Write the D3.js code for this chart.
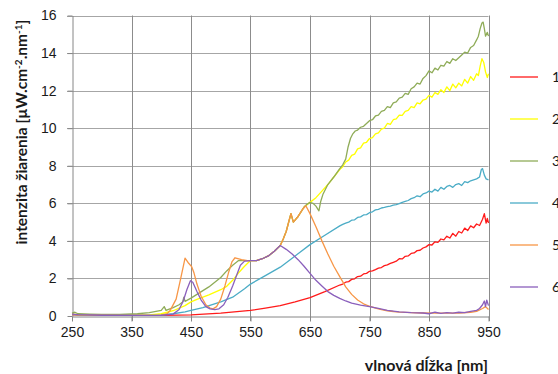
<!DOCTYPE html>
<html>
<head>
<meta charset="utf-8">
<script src="https://cdn.jsdelivr.net/npm/d3@7"></script>
<style>
  body { margin: 0; background: #fff; }
  svg { font-family: Lato, "Open Sans", sans-serif; }
  .axis text { font-size: 14px; fill: #1a1a1a; }
  .title { font-weight: bold; fill: #1a1a1a; }
</style>
</head>
<body>
<svg width="558" height="374"></svg>
<script>
var xTicks = [250, 350, 450, 550, 650, 750, 850, 950];
var yTicks = [0, 2, 4, 6, 8, 10, 12, 14, 16];
var seriesNames = ["1", "2", "3", "4", "5", "6"];
var colors = ["#ff1a1a", "#ffff00", "#8fac58", "#4bacc6", "#f79646", "#8a5fbc"];

// [vlnova dlzka, intenzita]
var s1 = [[250,0.08],[260,0.05],[300,0.04],[350,0.03],[400,0.03],[450,0.06],[500,0.15],[550,0.3],[575,0.42],[600,0.55],
  [625,0.75],[650,0.98],[675,1.3],[700,1.65],[705,1.7],[710,1.8],[715,1.83],[720,1.95],[725,1.98],[730,2.1],[735,2.12],
  [740,2.24],[745,2.27],[750,2.38],[755,2.4],[760,2.47],[765,2.55],[770,2.58],[775,2.68],[780,2.72],[785,2.8],[790,2.86],
  [795,2.92],[800,3.05],[805,3.04],[810,3.18],[815,3.2],[820,3.33],[825,3.36],[830,3.48],[835,3.5],[840,3.62],[845,3.68],
  [850,3.8],[855,3.78],[860,3.95],[865,3.92],[870,4.1],[875,4.05],[880,4.25],[885,4.15],[890,4.4],[895,4.25],[900,4.5],
  [905,4.42],[910,4.68],[915,4.55],[920,4.8],[925,4.7],[930,4.9],[935,4.82],[940,5.15],[943,5.45],[946,4.95],[948,5.2],[950,4.95]];

var s2 = [[250,0.1],[260,0.08],[280,0.05],[300,0.04],[350,0.04],[380,0.06],[400,0.12],[420,0.28],[440,0.55],[450,0.75],
  [460,0.88],[480,1.12],[500,1.4],[510,1.58],[520,1.9],[530,2.3],[540,2.65],[550,2.95],[560,2.95],[570,3.05],[580,3.2],
  [590,3.45],[600,3.75],[605,4.1],[610,4.5],[615,5.1],[618,5.45],[622,5.0],[630,5.3],[640,5.8],[650,6.05],[660,6.3],
  [670,6.65],[680,7.0],[690,7.4],[700,7.8],[705,7.95],[710,8.2],[715,8.3],[720,8.55],[725,8.62],[730,8.9],[735,8.95],
  [740,9.2],[745,9.25],[750,9.45],[755,9.5],[760,9.7],[765,9.75],[770,9.95],[775,10.0],[780,10.25],[785,10.2],[790,10.45],
  [795,10.5],[800,10.7],[805,10.68],[810,10.9],[815,10.95],[820,11.15],[825,11.1],[830,11.35],[835,11.3],[840,11.5],
  [845,11.55],[850,11.75],[855,11.65],[860,11.9],[865,11.8],[870,12.05],[875,11.9],[880,12.2],[885,12.0],[890,12.35],
  [895,12.15],[900,12.4],[905,12.25],[910,12.6],[915,12.4],[920,12.75],[925,12.55],[930,12.9],[933,12.8],[936,13.3],
  [939,13.7],[942,13.5],[945,13.0],[948,12.7],[950,12.9]];

var s3 = [[250,0.15],[255,0.2],[260,0.12],[280,0.1],[300,0.08],[330,0.08],[360,0.12],[380,0.18],[400,0.3],[405,0.5],
  [408,0.3],[420,0.45],[430,0.6],[436,0.75],[438,1.0],[440,0.78],[450,0.95],[460,1.15],[480,1.55],[500,2.05],[510,2.4],
  [520,2.7],[530,2.95],[540,2.95],[550,2.95],[560,2.95],[570,3.05],[580,3.2],[590,3.45],[600,3.75],[605,4.1],[610,4.5],
  [615,5.1],[618,5.45],[622,5.0],[630,5.3],[640,5.8],[645,5.95],[650,6.05],[655,6.0],[660,5.85],[665,5.6],[668,6.1],
  [672,6.5],[680,7.0],[690,7.4],[700,7.85],[705,8.05],[710,8.35],[714,9.0],[718,9.45],[722,9.7],[726,9.85],[730,9.9],
  [735,10.05],[740,10.1],[745,10.25],[750,10.4],[755,10.45],[760,10.65],[765,10.7],[770,10.9],[775,10.95],[780,11.15],
  [785,11.1],[790,11.35],[795,11.4],[800,11.6],[805,11.65],[810,11.85],[815,11.8],[820,12.1],[825,12.2],[830,12.4],
  [835,12.35],[840,12.65],[845,12.8],[850,13.05],[855,12.95],[860,13.2],[865,13.1],[870,13.35],[875,13.3],[880,13.55],
  [885,13.45],[890,13.7],[895,13.6],[900,13.75],[905,13.9],[910,14.05],[915,14.0],[920,14.3],[925,14.4],[930,14.7],
  [933,14.9],[936,15.3],[939,15.6],[941,15.65],[943,15.3],[945,14.9],[948,15.1],[950,14.9]];

var s4 = [[250,0.08],[270,0.05],[300,0.03],[350,0.03],[380,0.03],[400,0.05],[420,0.12],[440,0.22],[450,0.3],[470,0.45],
  [500,0.75],[520,1.0],[540,1.45],[550,1.7],[575,2.15],[600,2.6],[625,3.2],[650,3.8],[675,4.3],[700,4.8],[705,4.88],
  [710,4.95],[715,5.0],[720,5.1],[725,5.12],[730,5.25],[735,5.28],[740,5.38],[745,5.4],[750,5.5],[755,5.55],[760,5.65],
  [765,5.68],[770,5.75],[775,5.78],[780,5.82],[785,5.85],[790,5.9],[795,5.93],[800,5.98],[805,6.05],[810,6.1],[815,6.15],
  [820,6.25],[825,6.3],[830,6.4],[835,6.35],[840,6.5],[845,6.55],[850,6.65],[855,6.6],[860,6.75],[865,6.65],[870,6.85],
  [875,6.75],[880,6.9],[885,6.95],[890,6.85],[895,7.0],[900,7.05],[905,6.95],[910,7.15],[915,7.1],[920,7.2],[925,7.25],
  [930,7.3],[935,7.4],[938,7.8],[940,7.85],[943,7.5],[946,7.3],[950,7.25]];

var s5 = [[250,0.08],[260,0.06],[300,0.04],[350,0.03],[400,0.05],[410,0.12],[415,0.3],[425,0.9],[432,1.9],[440,3.08],
  [445,2.85],[451,2.63],[455,2.3],[460,1.7],[467,1.05],[475,0.6],[482,0.42],[487,0.38],[493,0.5],[500,0.9],[507,1.6],
  [513,2.3],[519,2.9],[524,3.1],[535,3.0],[545,2.95],[550,2.95],[560,2.95],[570,3.05],[580,3.2],[590,3.45],[600,3.75],
  [605,4.1],[610,4.5],[615,5.1],[618,5.45],[622,5.0],[630,5.3],[638,5.7],[643,5.87],[650,5.45],[660,4.75],[670,4.0],
  [680,3.3],[690,2.65],[700,2.1],[710,1.55],[720,1.15],[730,0.85],[740,0.65],[750,0.52],[760,0.42],[770,0.34],[780,0.28],
  [790,0.24],[800,0.21],[820,0.18],[840,0.16],[860,0.15],[880,0.15],[900,0.16],[920,0.2],[930,0.25],[940,0.4],[945,0.5],[950,0.35]];

var s6 = [[250,0.1],[260,0.07],[300,0.04],[350,0.03],[400,0.04],[420,0.1],[430,0.35],[437,0.8],[443,1.4],[449,1.88],
  [453,1.8],[460,1.3],[467,0.85],[475,0.5],[482,0.38],[490,0.34],[497,0.38],[505,0.6],[512,1.0],[520,1.6],[527,2.2],
  [533,2.7],[540,2.92],[550,2.95],[560,2.95],[570,3.05],[580,3.2],[590,3.45],[600,3.75],[610,3.55],[620,3.3],[630,3.0],
  [640,2.65],[650,2.27],[660,1.9],[670,1.6],[680,1.3],[690,1.1],[700,0.94],[710,0.8],[720,0.68],[735,0.58],[750,0.5],
  [765,0.4],[780,0.3],[800,0.22],[820,0.18],[840,0.16],[850,0.12],[860,0.2],[870,0.14],[880,0.18],[890,0.15],[900,0.2],
  [910,0.18],[920,0.25],[930,0.3],[935,0.4],[940,0.6],[943,0.8],[945,0.5],[947,0.85],[950,0.55]];

var allSeries = [s1, s2, s3, s4, s5, s6];

var svg = d3.select("svg");

var x = d3.scaleLinear().domain([250, 950]).range([72, 488.5]);
var y = d3.scaleLinear().domain([0, 16]).range([316, 15.5]);

// mriezka
svg.append("g")
    .selectAll("line")
    .data(yTicks.filter(function(d) { return d > 0; }))
    .enter().append("line")
    .attr("x1", x(250) - 5).attr("x2", x(950))
    .attr("y1", function(d) { return Math.round(y(d)) + 0.5; })
    .attr("y2", function(d) { return Math.round(y(d)) + 0.5; })
    .attr("stroke", "#a6a6a6");

svg.append("g")
    .selectAll("line")
    .data(xTicks.filter(function(d) { return d > 250; }))
    .enter().append("line")
    .attr("x1", function(d) { return Math.round(x(d)) + 0.5; })
    .attr("x2", function(d) { return Math.round(x(d)) + 0.5; })
    .attr("y1", y(16)).attr("y2", y(0) + 5)
    .attr("stroke", "#8c8c8c");

var xAxis = d3.axisBottom(x).tickValues(xTicks).tickSizeInner(5).tickSizeOuter(0).tickPadding(6);
var yAxis = d3.axisLeft(y).tickValues(yTicks).tickSizeInner(5).tickSizeOuter(0).tickPadding(11);

svg.append("g")
    .attr("class", "axis")
    .attr("transform", "translate(0," + (Math.round(y(0)) + 0.5) + ")")
    .call(xAxis);

svg.append("g")
    .attr("class", "axis")
    .attr("transform", "translate(" + (Math.round(x(250)) + 0.5) + ",0)")
    .call(yAxis);

svg.selectAll(".axis path, .axis line").attr("stroke", "#868686");

var line = d3.line()
    .x(function(d) { return x(d[0]); })
    .y(function(d) { return y(d[1]); });

svg.append("g")
    .selectAll("path")
    .data(allSeries)
    .enter().append("path")
    .attr("d", line)
    .attr("fill", "none")
    .attr("stroke", function(d, i) { return colors[i]; })
    .attr("stroke-width", 1.3)
    .attr("stroke-linejoin", "round");

// legenda
var legend = svg.append("g")
    .selectAll("g")
    .data(seriesNames)
    .enter().append("g")
    .attr("transform", function(d, i) { return "translate(510," + (77 + i * 42) + ")"; });

legend.append("line")
    .attr("x1", 0).attr("x2", 28)
    .attr("stroke", function(d, i) { return colors[i]; })
    .attr("stroke-width", 1.3);

legend.append("text")
    .attr("x", 42)
    .attr("dy", "0.35em")
    .style("font-size", "14px")
    .attr("fill", "#1a1a1a")
    .text(function(d) { return d; });

// nazvy osi
var yt = svg.append("text")
    .attr("class", "title")
    .style("font-size", "15.5px")
    .attr("transform", "translate(27,132) rotate(-90)")
    .attr("text-anchor", "middle");
yt.append("tspan").text("intenzita žiarenia [µW.cm");
yt.append("tspan").attr("dy", -5).style("font-size", "10px").text("-2");
yt.append("tspan").attr("dy", 5).text(".nm");
yt.append("tspan").attr("dy", -5).style("font-size", "10px").text("-1");
yt.append("tspan").attr("dy", 5).text("]");

svg.append("text")
    .attr("class", "title")
    .style("font-size", "16px")
    .attr("x", 488)
    .attr("y", 371)
    .attr("text-anchor", "end")
    .text("vlnová dĺžka [nm]");
</script>
</body>
</html>
